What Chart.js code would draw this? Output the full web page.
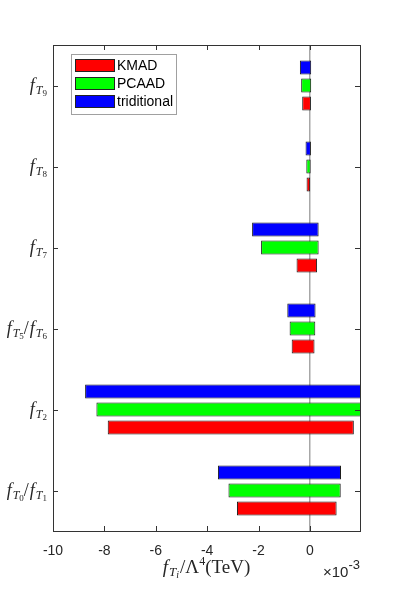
<!DOCTYPE html>
<html>
<head>
<meta charset="utf-8">
<script src="https://cdn.jsdelivr.net/npm/chart.js@4"></script>
<style>
  html, body { margin: 0; padding: 0; background: #fff; }
  #wrap { width: 399px; height: 597px; }
</style>
</head>
<body>
<div id="wrap"><canvas id="bars"></canvas></div>
<script>
// categories, top to bottom
var categories = ['f_{T_9}', 'f_{T_8}', 'f_{T_7}', 'f_{T_5}/f_{T_6}', 'f_{T_2}', 'f_{T_0}/f_{T_1}'];
var xTicks = [-10, -8, -6, -4, -2, 0];

// intervals, x 10^-3
var kmadLow   = [-0.30, -0.13, -0.52, -0.71, -7.87, -2.84];
var kmadHigh  = [ 0.04,  0.01,  0.28,  0.18,  1.71,  1.04];
var pcaadLow  = [-0.34, -0.14, -1.90, -0.79, -8.31, -3.17];
var pcaadHigh = [ 0.05,  0.03,  0.34,  0.21,  2.10,  1.20];
var tradLow   = [-0.39, -0.17, -2.25, -0.88, -8.75, -3.58];
var tradHigh  = [ 0.05,  0.04,  0.34,  0.22,  2.30,  1.21];

function pairs(lo, hi) {
  return lo.map(function (v, i) { return [v, hi[i]]; });
}

var SERIF = '"Liberation Serif", "DejaVu Serif", serif';
var SANS = '"Liberation Sans", Arial, sans-serif';

// draw a run of text pieces: [text, font, dy, gap]
function drawRun(ctx, parts, x, y, align) {
  var w = 0;
  parts.forEach(function (p) { ctx.font = p[1]; w += ctx.measureText(p[0]).width + (p[3] || 0); });
  var cx = align === 'right' ? x - w : (align === 'center' ? x - w / 2 : x);
  ctx.textAlign = 'left';
  ctx.textBaseline = 'alphabetic';
  parts.forEach(function (p) {
    ctx.font = p[1];
    ctx.fillText(p[0], cx, y + p[2]);
    cx += ctx.measureText(p[0]).width + (p[3] || 0);
  });
}

function labelParts(lbl) {
  var out = [];
  lbl.split('/').forEach(function (seg, i) {
    if (i > 0) out.push(['/', '18px ' + SERIF, 0, 1]);
    var m = seg.match(/f_\{T_(\w)\}/);
    out.push(['f', 'italic 18px ' + SERIF, 0, 1]);
    out.push(['T', 'italic 12px ' + SERIF, 3, 0]);
    out.push([m[1], '9px ' + SERIF, 5, 0]);
  });
  return out;
}

var matlabAxes = {
  id: 'matlabAxes',
  afterDraw: function (chart) {
    var ctx = chart.ctx, a = chart.chartArea;
    var xs = chart.scales.x, ys = chart.scales.y;
    ctx.save();
    ctx.strokeStyle = '#333';
    ctx.lineWidth = 1;
    ctx.strokeRect(Math.round(a.left) + 0.5, Math.round(a.top) + 0.5,
      Math.round(a.right - a.left), Math.round(a.bottom - a.top));

    // inward ticks
    ctx.beginPath();
    xTicks.forEach(function (v) {
      var px = Math.round(xs.getPixelForValue(v)) + 0.5;
      ctx.moveTo(px, a.bottom); ctx.lineTo(px, a.bottom - 5);
      ctx.moveTo(px, a.top); ctx.lineTo(px, a.top + 5);
    });
    categories.forEach(function (c, i) {
      var py = Math.round(ys.getPixelForValue(i)) + 0.5;
      ctx.moveTo(a.left, py); ctx.lineTo(a.left + 5, py);
      ctx.moveTo(a.right, py); ctx.lineTo(a.right - 5, py);
    });
    ctx.stroke();

    // category labels
    ctx.fillStyle = '#262626';
    categories.forEach(function (c, i) {
      drawRun(ctx, labelParts(c), a.left - 6, ys.getPixelForValue(i) + 5, 'right');
    });

    // axis title and exponent
    drawRun(ctx, [
      ['f', 'italic 19px ' + SERIF, 0, 1],
      ['T', 'italic 13px ' + SERIF, 3, 0],
      ['i', 'italic 10px ' + SERIF, 5, 1],
      ['/', '19px ' + SERIF, 0, 0],
      ['\u039B', '19px ' + SERIF, 0, 0],
      ['4', '12px ' + SERIF, -8, 0],
      ['(TeV)', '19px ' + SERIF, 0, 0]
    ], (a.left + a.right) / 2, 573, 'center');
    drawRun(ctx, [
      ['\u00D710', '15px ' + SANS, 0, 0],
      ['-3', '13px ' + SANS, -8, 0]
    ], a.right, 577, 'right');

    // legend inside the axes
    var lx = 71, ly = 54, lw = 105, lh = 60;
    ctx.fillStyle = '#fff';
    ctx.fillRect(lx, ly, lw, lh);
    ctx.strokeStyle = '#a0a0a0';
    ctx.strokeRect(lx + 0.5, ly + 0.5, lw, lh);
    var ds = chart.data.datasets.slice().reverse();
    ds.forEach(function (d, i) {
      var ry = 59 + i * 18;
      ctx.fillStyle = d.backgroundColor;
      ctx.fillRect(75, ry, 40, 13);
      ctx.strokeStyle = '#222';
      ctx.strokeRect(75.5, ry + 0.5, 39, 12);
      ctx.fillStyle = '#000';
      ctx.font = '14px ' + SANS;
      ctx.textBaseline = 'middle';
      ctx.fillText(d.label, 117, ry + 7);
    });
    ctx.restore();
  }
};

var chart = new Chart(document.getElementById('bars'), {
  type: 'bar',
  data: {
    labels: categories,
    datasets: [{
      label: 'triditional',
      data: pairs(tradLow, tradHigh),
      backgroundColor: '#0000ff'
    }, {
      label: 'PCAAD',
      data: pairs(pcaadLow, pcaadHigh),
      backgroundColor: '#00ff00'
    }, {
      label: 'KMAD',
      data: pairs(kmadLow, kmadHigh),
      backgroundColor: '#ff0000'
    }]
  },
  options: {
    indexAxis: 'y',
    responsive: true,
    maintainAspectRatio: false,
    animation: false,
    layout: { padding: { top: 45, right: 39, left: 0, bottom: 0 } },
    datasets: {
      bar: {
        categoryPercentage: 0.667,
        barPercentage: 0.79,
        borderColor: '#1a1a1a',
        borderWidth: 1,
        borderSkipped: false,
        clip: 0
      }
    },
    plugins: {
      legend: { display: false },
      tooltip: { enabled: false }
    },
    scales: {
      x: {
        type: 'linear',
        min: -10,
        max: 1.95,
        z: 1,
        afterFit: function (s) { s.height = 66; },
        border: { display: false },
        grid: {
          drawTicks: false,
          lineWidth: 1.5,
          color: function (c) { return c.tick && c.tick.value === 0 ? 'rgba(60,60,60,0.45)' : 'rgba(0,0,0,0)'; }
        },
        ticks: {
          stepSize: 2,
          includeBounds: false,
          padding: 12,
          color: '#262626',
          font: { family: 'Liberation Sans', size: 14 }
        }
      },
      y: {
        type: 'category',
        afterFit: function (s) { s.width = 53; },
        border: { display: false },
        grid: { display: false },
        ticks: { display: false }
      }
    }
  },
  plugins: [matlabAxes]
});
</script>
</body>
</html>
